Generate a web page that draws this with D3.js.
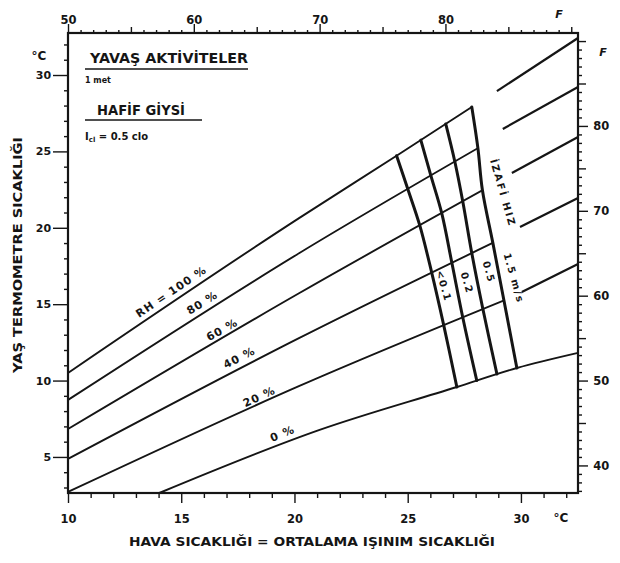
<!DOCTYPE html>
<html><head><meta charset="utf-8">
<script src="https://cdn.jsdelivr.net/npm/d3@7"></script>
<style>
body{margin:0;background:#fff}
svg{display:block}
text{font-family:"DejaVu Sans",sans-serif;font-weight:bold;fill:#151515}
.axis path,.axis line{stroke:#151515}
</style>
</head><body><svg id="c" width="620" height="563"></svg>
<script>
// ---------- data (°C air temperature, °C wet-bulb scale) ----------
const rhLevels = [100, 80, 60, 40, 20, 0];
const rhLabelTexts = ["RH = 100 %", "80 %", "60 %", "40 %", "20 %", "0 %"];
const rh100 = [[10, 10.50], [20.22, 20.65], [24.56, 24.76], [27.83, 27.91]];
const rh80  = [[10, 8.73], [20.22, 18.35], [28.19, 25.29]];
const rh60  = [[10, 6.83], [20.22, 15.73], [28.32, 22.47]];
const rh40  = [[10, 4.87], [20.22, 12.79], [28.76, 19.01]];
const rh20  = [[10, 2.71], [20.22, 9.65], [29.29, 15.27]];
const rh0   = [[14.03, 2.64], [21.11, 6.77], [27.17, 9.58], [29.82, 10.82], [32.52, 11.81]];
// segments right of the comfort zone
const rh100Right = [[28.94, 28.95], [32.52, 32.42]];
const rh80Right  = [[29.20, 26.47], [32.52, 29.21]];
const rh60Right  = [[29.60, 23.59], [32.52, 25.94]];
const rh40Right  = [[29.96, 20.05], [32.52, 21.95]];
const rh20Right  = [[30.04, 15.80], [32.52, 17.63]];
// relative air velocity curves: air temperature where each crosses RH 100..0
const velocityLabels = ["<0.1", "0.2", "0.5", "1.5 m/s"];
const vel01 = [24.51, 25.00, 25.53, 26.06, 26.59, 27.17];
const vel02 = [25.58, 26.02, 26.50, 26.95, 27.43, 28.05];
const vel05 = [26.68, 27.08, 27.43, 27.83, 28.32, 28.94];
const vel15 = [27.83, 28.10, 28.30, 28.76, 29.25, 29.82];
// ticks
const xTicksC = [10, 15, 20, 25, 30];
const yTicksC = [5, 10, 15, 20, 25, 30];
const xTicksF = [50, 60, 70, 80];
const yTicksF = [40, 50, 60, 70, 80];

// ---------- scales ----------
const L = 68, R = 578, T = 33, B = 493;
const x = d3.scaleLinear().domain([10, 32.52]).range([L, R]);
const y = d3.scaleLinear().domain([2.64, 32.75]).range([B, T]);
const c2f = c => c * 9 / 5 + 32;
const xF = d3.scaleLinear().domain([c2f(10), c2f(32.52)]).range([L, R]);
const yF = d3.scaleLinear().domain([c2f(2.64), c2f(32.75)]).range([B, T]);

const svg = d3.select("#c");
const ink = "#151515";
const defs = svg.append("defs");
const hidden = svg.append("g").attr("visibility", "hidden");

const smoothGen = d3.line().x(d => x(d[0])).y(d => y(d[1])).curve(d3.curveMonotoneX);
const lineGen = d3.line().x(d => x(d[0])).y(d => y(d[1]));

// sampler: pixel y of a drawn smooth path at pixel x
function makeSampler(pts) {
  const p = hidden.append("path").attr("d", smoothGen(pts)).node();
  const len = p.getTotalLength();
  return function (xpx) {
    let lo = 0, hi = len;
    for (let k = 0; k < 40; k++) {
      const m = (lo + hi) / 2;
      if (p.getPointAtLength(m).x < xpx) lo = m; else hi = m;
    }
    return p.getPointAtLength((lo + hi) / 2).y;
  };
}

const rhMain = [rh100, rh80, rh60, rh40, rh20, rh0];
const rhRight = [rh100Right, rh80Right, rh60Right, rh40Right, rh20Right];
const vels = [vel01, vel02, vel05, vel15];
const samplers = rhMain.map(makeSampler);

// ---------- RH lines ----------
rhMain.forEach((ln, i) => {
  const path = svg.append("path").attr("d", smoothGen(ln)).attr("fill", "none")
    .attr("stroke", ink).attr("stroke-width", 1.9);
  if (i < 5) {
    const id = "clip" + i;
    defs.append("clipPath").attr("id", id).append("rect")
      .attr("x", 0).attr("y", 0).attr("width", x(vel15[i]) + 0.5).attr("height", 563);
    path.attr("clip-path", `url(#${id})`);
  }
});
rhRight.forEach(seg => {
  svg.append("path").attr("d", lineGen(seg)).attr("fill", "none")
    .attr("stroke", ink).attr("stroke-width", 2.2);
});

// ---------- velocity curves ----------
const curveGen = d3.line().curve(d3.curveCatmullRom.alpha(0.5));
vels.forEach(v => {
  const pts = v.map((xv, j) => [x(xv), samplers[j](x(xv))]);
  svg.append("path").attr("d", curveGen(pts)).attr("fill", "none")
    .attr("stroke", ink).attr("stroke-width", 3).attr("stroke-linecap", "round");
});

// ---------- axes ----------
function addAxis(gen, transform, size, values, fmt) {
  const g = svg.append("g").attr("class", "axis").attr("transform", transform)
    .call(gen.tickValues(values).tickSize(size).tickSizeOuter(0).tickFormat(fmt || ""));
  g.select(".domain").remove();
  g.selectAll("line").attr("stroke-width", 1.4);
  return g;
}
// bottom °C
addAxis(d3.axisBottom(x), `translate(0,${B})`, 5, d3.range(11, 33).filter(v => v % 5));
addAxis(d3.axisBottom(x), `translate(0,${B})`, 10, xTicksC, d => d)
  .selectAll("text").attr("font-size", 11.5).attr("dy", "1.5em");
// left °C
addAxis(d3.axisLeft(y), `translate(${L},0)`, 4, d3.range(3, 33).filter(v => v % 5));
addAxis(d3.axisLeft(y), `translate(${L},0)`, 15, yTicksC, d => d)
  .selectAll("text").attr("font-size", 11).attr("dx", "0.1em");
// top °F
addAxis(d3.axisTop(xF), `translate(0,${T})`, 3, d3.range(51, 91).filter(v => v % 5));
addAxis(d3.axisTop(xF), `translate(0,${T})`, 6, [55, 65, 75, 85, 90]);
addAxis(d3.axisTop(xF), `translate(0,${T})`, 9, xTicksF, d => d)
  .selectAll("text").attr("font-size", 11.5).attr("dy", "0.3em");
// right °F
addAxis(d3.axisRight(yF), `translate(${R},0)`, 4, d3.range(37, 91).filter(v => v % 5));
addAxis(d3.axisRight(yF), `translate(${R},0)`, 8, [45, 55, 65, 75, 85, 90]);
addAxis(d3.axisRight(yF), `translate(${R},0)`, 10, yTicksF, d => d)
  .selectAll("text").attr("font-size", 11.5).attr("dx", "0.2em");

// frame
svg.append("rect").attr("x", L).attr("y", T).attr("width", R - L).attr("height", B - T)
  .attr("fill", "none").attr("stroke", ink).attr("stroke-width", 2.2);

// unit labels
svg.append("text").attr("x", 39).attr("y", 60).attr("text-anchor", "middle").attr("font-size", 12).text("°C");
svg.append("text").attr("x", 561).attr("y", 522).attr("text-anchor", "middle").attr("font-size", 12).text("°C");
svg.append("text").attr("x", 559).attr("y", 18).attr("text-anchor", "middle").attr("font-size", 11).attr("font-style", "italic").text("F");
svg.append("text").attr("x", 603).attr("y", 56).attr("text-anchor", "middle").attr("font-size", 11).attr("font-style", "italic").text("F");

// axis titles
svg.append("text").attr("transform", `translate(22,255) rotate(-90)`).attr("text-anchor", "middle")
  .attr("font-size", 12.5).attr("textLength", 236).attr("lengthAdjust", "spacingAndGlyphs")
  .text("YAŞ TERMOMETRE SICAKLIĞI");
svg.append("text").attr("x", 312).attr("y", 546).attr("text-anchor", "middle")
  .attr("font-size", 13).attr("textLength", 366).attr("lengthAdjust", "spacingAndGlyphs")
  .text("HAVA SICAKLIĞI = ORTALAMA IŞINIM SICAKLIĞI");

// condition notes
svg.append("text").attr("x", 90).attr("y", 63).attr("font-size", 13.5).attr("font-weight", "normal")
  .attr("textLength", 158).attr("lengthAdjust", "spacingAndGlyphs").text("YAVAŞ AKTİVİTELER");
svg.append("line").attr("x1", 85).attr("x2", 248).attr("y1", 69).attr("y2", 69).attr("stroke", ink).attr("stroke-width", 1.6);
svg.append("text").attr("x", 85).attr("y", 83).attr("font-size", 8).text("1 met");
svg.append("text").attr("x", 97).attr("y", 115).attr("font-size", 13.5).attr("font-weight", "normal")
  .attr("textLength", 88).attr("lengthAdjust", "spacingAndGlyphs").text("HAFİF GİYSİ");
svg.append("line").attr("x1", 85).attr("x2", 202).attr("y1", 120).attr("y2", 120).attr("stroke", ink).attr("stroke-width", 1.6);
const icl = svg.append("text").attr("x", 85).attr("y", 140).attr("font-size", 10);
icl.append("tspan").text("I");
icl.append("tspan").attr("font-size", 7).attr("dy", 2).text("cl");
icl.append("tspan").attr("dy", -2).text(" = 0.5 clo");

// RH labels (positions in chart units)
const rhLabelPos = [[14.56, 15.80, -34], [15.93, 15.08, -32], [16.81, 13.31, -29], [17.57, 11.48, -27], [18.45, 8.93, -25], [19.47, 6.51, -22]];
rhLabelTexts.forEach((t, i) => {
  const [lx, ly, a] = rhLabelPos[i];
  svg.append("text").attr("transform", `translate(${x(lx)},${y(ly)}) rotate(${a})`)
    .attr("text-anchor", "middle").attr("dominant-baseline", "central")
    .attr("font-size", 11).attr("letter-spacing", 1).text(t);
});

// velocity labels
const velLabelPos = [[26.60, 16.19], [27.62, 16.39], [28.59, 17.11], [29.69, 16.71]];
velocityLabels.forEach((t, i) => {
  const [lx, ly] = velLabelPos[i];
  svg.append("text").attr("transform", `translate(${x(lx)},${y(ly)}) rotate(74)`)
    .attr("text-anchor", "middle").attr("dominant-baseline", "central")
    .attr("font-size", 10).attr("font-weight", "normal").attr("letter-spacing", 1.5).text(t);
});
svg.append("text").attr("transform", `translate(${x(29.21)},${y(22.28)}) rotate(74)`)
  .attr("text-anchor", "middle").attr("dominant-baseline", "central")
  .attr("font-size", 10).attr("font-weight", "normal").attr("letter-spacing", 2).text("İZAFİ HIZ");
</script>
</body></html>
